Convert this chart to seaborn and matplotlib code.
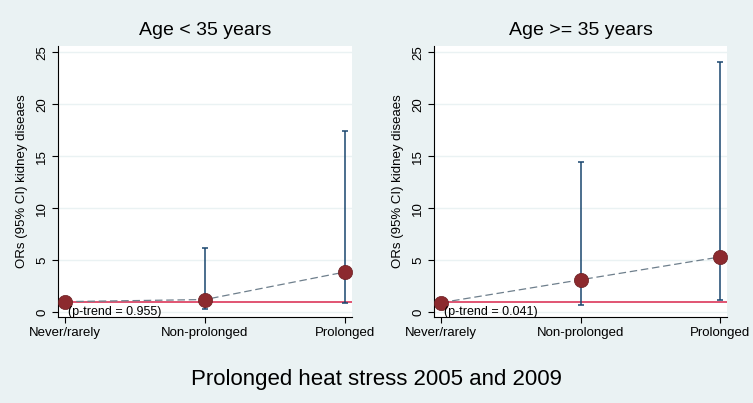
import matplotlib
matplotlib.use("Agg")
import matplotlib.pyplot as plt
import pandas as pd
import seaborn as sns

# values
categories = ["Never/rarely", "Non-prolonged", "Prolonged"]
panel_titles = ["Age < 35 years", "Age >= 35 years"]
or_young = [1.0, 1.2, 3.85]
lo_young = [1.0, 0.3, 0.85]
hi_young = [1.0, 6.2, 17.4]
or_old = [0.9, 3.1, 5.3]
lo_old = [0.9, 0.65, 1.15]
hi_old = [0.9, 14.45, 24.1]
ptrend = ["(p-trend = 0.955)", "(p-trend = 0.041)"]
yticks = [0, 5, 10, 15, 20, 25]

BG = "#eaf2f3"
NAVY = "#1a476f"
MAROON = "#8c2a2e"
RED = "#d8264c"

sns.set_style("white", {"axes.facecolor": "white", "figure.facecolor": BG,
                        "text.color": "black", "axes.labelcolor": "black",
                        "xtick.color": "black", "ytick.color": "black"})
plt.rcParams["font.family"] = ["Liberation Sans", "DejaVu Sans"]

fig = plt.figure(figsize=(7.53, 4.03), dpi=100)
fig.patch.set_facecolor(BG)
axes = [fig.add_axes([0.077, 0.2134, 0.3905, 0.6725]),
        fig.add_axes([0.5764, 0.2134, 0.3891, 0.6725])]

panels = [(or_young, lo_young, hi_young), (or_old, lo_old, hi_old)]
for ax, title, (est, lo, hi), pt in zip(axes, panel_titles, panels, ptrend):
    df = pd.DataFrame({"x": range(len(categories)), "cat": categories,
                       "est": est, "lo": lo, "hi": hi})
    for y in yticks:
        ax.axhline(y, color=BG, lw=1, zorder=0)
    ax.axhline(1, color=RED, lw=1.1, zorder=1)
    ax.errorbar(df["x"], df["est"],
                yerr=[df["est"] - df["lo"], df["hi"] - df["est"]],
                fmt="none", ecolor=NAVY, elinewidth=1.1, capsize=2.5,
                capthick=1.1, zorder=2)
    sns.lineplot(data=df, x="x", y="est", ax=ax, color="#6e7f8c",
                 linestyle=(0, (6, 3)), lw=0.9, zorder=3)
    sns.scatterplot(data=df, x="x", y="est", ax=ax, color=MAROON, s=105,
                    edgecolor="#6a1f22", linewidth=0.5, zorder=4)
    ax.text(0.02, 0, pt, fontsize=9, va="center", ha="left", color="black",
            zorder=5)

    ax.set_xlim(-0.05, 2.05)
    ax.set_ylim(-0.48, 25.6)
    ax.set_xticks(df["x"])
    ax.set_xticklabels(categories, fontsize=9.5, color="black")
    ax.set_yticks(yticks)
    ax.set_yticklabels([str(t) for t in yticks], fontsize=9.5, rotation=90,
                       va="center", color="black")
    ax.tick_params(axis="both", length=4, width=0.8, color="black",
                   direction="out", pad=3, left=True, bottom=True)
    ax.set_xlabel("")
    ax.set_ylabel("ORs (95% CI) kidney diseaes", fontsize=9.5, labelpad=6,
                  color="black")
    ax.set_title(title, fontsize=14, pad=8, color="black")
    for side in ["top", "right"]:
        ax.spines[side].set_visible(False)
    for side in ["left", "bottom"]:
        ax.spines[side].set_color("black")
        ax.spines[side].set_linewidth(0.8)

fig.text(0.5, 0.058, "Prolonged heat stress 2005 and 2009", fontsize=16,
         ha="center", va="center", color="black")

fig.savefig("out.png", dpi=100, facecolor=BG)
